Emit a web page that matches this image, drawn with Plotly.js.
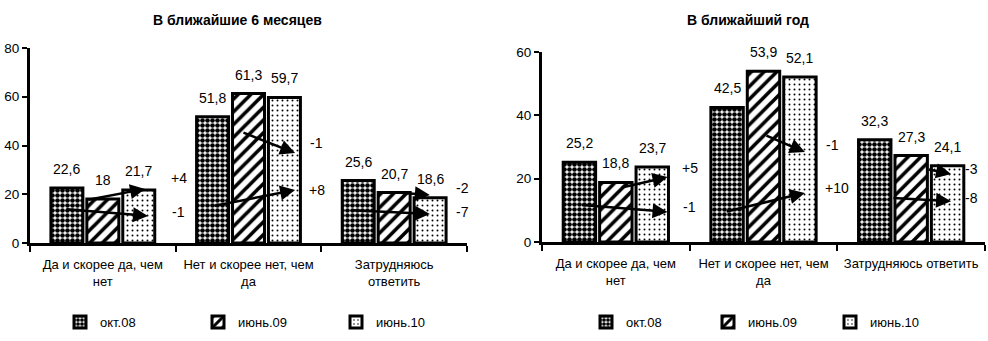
<!DOCTYPE html>
<html>
<head>
<meta charset="utf-8">
<script src="https://cdn.plot.ly/plotly-3.0.1.min.js"></script>
<style>html,body{margin:0;padding:0;background:#fff}#chart{width:988px;height:341px}</style>
</head>
<body>
<div id="chart"></div>
<script>
// ---------- data ----------
const categories6 = ['Да и скорее да, чем<br>нет', 'Нет и скорее нет, чем<br>да', 'Затрудняюсь<br>ответить'];
const categoriesYear = ['Да и скорее да, чем<br>нет', 'Нет и скорее нет, чем<br>да', 'Затрудняюсь ответить'];
const seriesNames = ['окт.08', 'июнь.09', 'июнь.10'];
const values6 = [
  [22.6, 51.8, 25.6],   // окт.08
  [18.0, 61.3, 20.7],   // июнь.09
  [21.7, 59.7, 18.6]    // июнь.10
];
const valuesYear = [
  [25.2, 42.5, 32.3],
  [18.8, 53.9, 27.3],
  [23.7, 52.1, 24.1]
];
const titles = ['В ближайшие 6 месяцев', 'В ближайший год'];
const changes6 = ['+4', '-1', '-1', '+8', '-2', '-7'];
const changesYear = ['+5', '-1', '-1', '+10', '-3', '-8'];

// arrow geometry (axis units): [fromX, fromY, toX, toY, labelX, labelY]
const arrows6 = [
  [-0.11, 17.6, 0.29, 22.2, 0.52, 26.7],
  [-0.26, 13.9, 0.31, 11.1, 0.52, 12.7],
  [0.955, 45.5, 1.32, 36.9, 1.47, 41.0],
  [0.757, 15.2, 1.32, 21.7, 1.47, 21.7],
  [1.99, 20.9, 2.245, 19.7, 2.47, 22.6],
  [1.70, 13.5, 2.245, 11.9, 2.47, 12.7]
];
const arrowsYear = [
  [0.03, 17.1, 0.35, 20.5, 0.50, 23.4],
  [-0.24, 11.7, 0.35, 9.5, 0.50, 11.1],
  [1.01, 33.8, 1.28, 28.4, 1.47, 30.6],
  [0.74, 9.5, 1.28, 15.5, 1.50, 17.0],
  [2.11, 23.0, 2.27, 21.5, 2.41, 23.0],
  [1.87, 13.9, 2.27, 12.9, 2.41, 13.9]
];

// ---------- styles ----------
const FONT = 'Liberation Sans, Arial, sans-serif';
const patterns = [
  {shape: '.', size: 5, solidity: 0.68, fillmode: 'replace', fgcolor: '#000', bgcolor: '#fff'},
  {shape: '/', size: 9, solidity: 0.4, fillmode: 'replace', fgcolor: '#000', bgcolor: '#fff'},
  {shape: '.', size: 5, solidity: 0.12, fillmode: 'replace', fgcolor: '#000', bgcolor: '#fff'}
];
const BARGAP = 0.26;
const slot = (1 - BARGAP) / 3;
const fmt = v => String(Math.round(v * 10) / 10).replace('.', ',');

const traces = [];
const annotations = [];

function addChart(cats, vals, xa, ya, legendId, changes, arrows) {
  const idx = cats.map((c, i) => i);
  vals.forEach((v, s) => {
    traces.push({
      type: 'bar', x: idx, y: v, name: seriesNames[s],
      xaxis: xa, yaxis: ya, legend: legendId,
      marker: {color: '#000', line: {color: '#000', width: 3}, pattern: patterns[s]},
      hoverinfo: 'skip'
    });
    v.forEach((val, i) => {
      annotations.push({
        x: i + (s - 1) * slot, y: val, xref: xa, yref: ya,
        text: fmt(val), showarrow: false, yanchor: 'middle', yshift: 19,
        font: {family: FONT, size: 14, color: '#000'}
      });
    });
  });
  arrows.forEach((a, k) => {
    annotations.push({
      x: a[2], y: a[3], ax: a[0], ay: a[1], xref: xa, yref: ya, axref: xa, ayref: ya,
      text: '', showarrow: true, arrowhead: 2, arrowsize: 1.2, arrowwidth: 2.5, arrowcolor: '#000'
    });
    annotations.push({
      x: a[4], y: a[5], xref: xa, yref: ya, text: changes[k], showarrow: false,
      font: {family: FONT, size: 14, color: '#000'}
    });
  });
}

addChart(categories6, values6, 'x', 'y', 'legend', changes6, arrows6);
addChart(categoriesYear, valuesYear, 'x2', 'y2', 'legend2', changesYear, arrowsYear);

annotations.push({x: 237 / 988, y: 1 - 20 / 341, xref: 'paper', yref: 'paper', showarrow: false,
  xanchor: 'center', yanchor: 'middle',
  text: '<b>' + titles[0] + '</b>', font: {family: FONT, size: 14, color: '#000'}});
annotations.push({x: 748 / 988, y: 1 - 20 / 341, xref: 'paper', yref: 'paper', showarrow: false,
  xanchor: 'center', yanchor: 'middle',
  text: '<b>' + titles[1] + '</b>', font: {family: FONT, size: 14, color: '#000'}});

const xaxisBase = {
  type: 'linear', range: [-0.5, 2.5], showgrid: false, zeroline: false, automargin: false,
  showline: true, linecolor: '#000', linewidth: 3, tickangle: 0,
  ticks: 'outside', ticklen: 6, tickwidth: 2, tickcolor: '#000',
  tickfont: {family: FONT, size: 13, color: '#000'}, fixedrange: true
};
const yaxisBase = {
  showgrid: false, zeroline: false, showline: true, linecolor: '#000', linewidth: 3, automargin: false,
  ticks: 'outside', ticklen: 5, tickwidth: 2, tickcolor: '#000',
  tickfont: {family: FONT, size: 13.5, color: '#000'}, fixedrange: true
};
function boundaryAxis(domain, anchor) {
  return Object.assign({}, xaxisBase, {
    domain: domain, anchor: anchor,
    tickmode: 'array', tickvals: [-0.5, 0.5, 1.5, 2.5], ticktext: ['', '', '', '']
  });
}
function labelAxis(cats, domain, anchor, over) {
  return Object.assign({}, xaxisBase, {
    domain: domain, anchor: anchor, overlaying: over,
    tickmode: 'array', tickvals: cats.map((c, i) => i), ticktext: cats,
    ticks: '', showline: false, ticklabelstandoff: 12
  });
}

const layout = {
  width: 988, height: 341,
  margin: {l: 0, r: 0, t: 0, b: 0, autoexpand: false},
  paper_bgcolor: '#fff', plot_bgcolor: '#fff',
  bargap: BARGAP, bargroupgap: 0.11, barmode: 'group',
  font: {family: FONT, size: 13, color: '#000'},
  xaxis: boundaryAxis([30 / 988, 467 / 988], 'y'),
  xaxis3: labelAxis(categories6, [30 / 988, 467 / 988], 'y', 'x'),
  yaxis: Object.assign({}, yaxisBase, {domain: [(341 - 243) / 341, (341 - 48) / 341], range: [0, 80], dtick: 20, anchor: 'x'}),
  xaxis2: boundaryAxis([542 / 988, 985 / 988], 'y2'),
  xaxis4: labelAxis(categoriesYear, [542 / 988, 985 / 988], 'y2', 'x2'),
  yaxis2: Object.assign({}, yaxisBase, {domain: [(341 - 242) / 341, (341 - 52) / 341], range: [0, 60], dtick: 20, anchor: 'x2'}),
  legend: {orientation: 'h', x: 60 / 988, xanchor: 'left', y: 19 / 341, yanchor: 'middle',
    entrywidth: 93, entrywidthmode: 'pixels', bgcolor: 'rgba(0,0,0,0)',
    font: {family: FONT, size: 13, color: '#000'}},
  legend2: {orientation: 'h', x: 586 / 988, xanchor: 'left', y: 19 / 341, yanchor: 'middle',
    entrywidth: 77, entrywidthmode: 'pixels', bgcolor: 'rgba(0,0,0,0)',
    font: {family: FONT, size: 13, color: '#000'}},
  annotations: annotations
};
traces.push({type: 'scatter', x: [0], y: [0], xaxis: 'x3', yaxis: 'y', mode: 'none', showlegend: false, hoverinfo: 'skip'});
traces.push({type: 'scatter', x: [0], y: [0], xaxis: 'x4', yaxis: 'y2', mode: 'none', showlegend: false, hoverinfo: 'skip'});

Plotly.newPlot('chart', traces, layout, {staticPlot: true});
</script>
</body>
</html>
